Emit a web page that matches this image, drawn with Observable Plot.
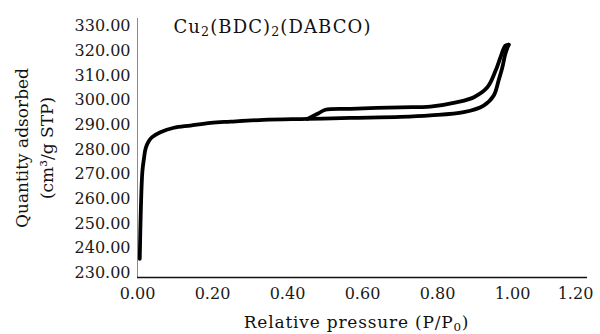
<!DOCTYPE html>
<html><head><meta charset="utf-8">
<script src="https://cdn.jsdelivr.net/npm/d3@7"></script>
<script src="https://cdn.jsdelivr.net/npm/@observablehq/plot@0.6"></script>
<style>body{margin:0;background:#fff}</style>
</head><body><div id="chart"></div>
<script>
// Adsorption branch (relative pressure, quantity adsorbed)
const adsP = [0.006, 0.009, 0.013, 0.017, 0.022, 0.03, 0.039, 0.061, 0.097, 0.141, 0.195, 0.248, 0.336, 0.453, 0.568, 0.701, 0.781, 0.87, 0.923, 0.95, 0.963, 0.973, 0.981, 0.99];
const adsV = [237.6, 258, 273, 278, 282.5, 285.2, 286.9, 288.9, 290.7, 291.6, 292.7, 293.2, 293.9, 294.3, 294.7, 295.1, 295.7, 297.0, 299.7, 303.8, 309.9, 315.2, 320.7, 324.4];
// Desorption branch
const desP = [0.99, 0.981, 0.968, 0.955, 0.933, 0.897, 0.853, 0.781, 0.701, 0.568, 0.501, 0.483, 0.466, 0.453];
const desV = [324.4, 324.0, 319.3, 313.9, 307.1, 303.1, 301.1, 299.3, 299.0, 298.4, 298.0, 296.6, 295.3, 294.3];

const xTicks = [0, 0.2, 0.4, 0.6, 0.8, 1.0, 1.2];
const yTicks = [230, 240, 250, 260, 270, 280, 290, 300, 310, 320, 330];
const chartTitle = "Cu₂(BDC)₂(DABCO)";
const yTitle1 = "Quantity adsorbed";
const yTitle2 = "(cm³/g STP)";
const xTitle = "Relative pressure (P/P₀)";

const ads = adsP.map((p, i) => ({p, v: adsV[i]}));
const des = desP.map((p, i) => ({p, v: desV[i]}));

const font = "DejaVu Serif";
const txt = {fontFamily: font, fontSize: 17, fill: "#111"};
const chart = Plot.plot({
  width: 600, height: 334,
  marginLeft: 137, marginRight: 13, marginTop: 18, marginBottom: 57,
  style: {fontFamily: font, background: "white", color: "#1a1a1a"},
  x: {domain: [0, 1.2]},
  y: {domain: [230, 335]},
  marks: [
    Plot.ruleX([0], {y1: 230, y2: 335, stroke: "#8c8c8c", strokeWidth: 1}),
    Plot.ruleY([230], {x1: 0, x2: 1.2, stroke: "#111", strokeWidth: 1.5}),
    Plot.axisY({ticks: yTicks, tickSize: 0, tickPadding: 7, tickFormat: d => d.toFixed(2), fontSize: 16, fontFamily: font, dy: -4.5, label: null}),
    Plot.axisX({ticks: xTicks, tickSize: 0, tickPadding: 10, tickFormat: d => d.toFixed(2), fontSize: 16, fontFamily: font, label: null}),
    Plot.line(ads, {x: "p", y: "v", curve: "catmull-rom", stroke: "black", strokeWidth: 3.8, strokeLinecap: "round", strokeLinejoin: "round"}),
    Plot.line(des, {x: "p", y: "v", curve: "catmull-rom", stroke: "black", strokeWidth: 3.8, strokeLinecap: "round", strokeLinejoin: "round"}),
    Plot.text([chartTitle], {...txt, fontSize: 18, frameAnchor: "top-left", dx: 36, dy: 2, textAnchor: "start", className: "subfix ttl"}),
    Plot.text([yTitle1], {...txt, frameAnchor: "left", dx: -115, rotate: -90, textAnchor: "middle"}),
    Plot.text([yTitle2], {...txt, frameAnchor: "left", dx: -90, rotate: -90, textAnchor: "middle"}),
    Plot.text([xTitle], {...txt, frameAnchor: "bottom", dx: -6, dy: 50, textAnchor: "middle", className: "subfix xt"})
  ]
});
document.getElementById("chart").appendChild(chart);
const xl = chart.querySelectorAll('g[aria-label="x-axis tick label"] text');
if (xl.length) {
  const last = xl[xl.length - 1];
  last.setAttribute("transform", (last.getAttribute("transform") || "") + " translate(-12,0)");
}
// turn unicode subscripts into real lowered, smaller tspans
const subMap = {"₀": "0", "₁": "1", "₂": "2", "₃": "3"};
chart.querySelectorAll(".subfix text, text.subfix").forEach(t => {
  const s = t.textContent;
  if (!/[₀-₉]/.test(s)) return;
  t.textContent = "";
  let buf = "";
  const flush = () => { if (buf) { const ts = document.createElementNS("http://www.w3.org/2000/svg", "tspan"); ts.textContent = buf; t.appendChild(ts); buf = ""; } };
  for (const ch of s) {
    if (subMap[ch] !== undefined) {
      flush();
      const ts = document.createElementNS("http://www.w3.org/2000/svg", "tspan");
      ts.textContent = subMap[ch];
      ts.setAttribute("font-size", "70%");
      ts.setAttribute("baseline-shift", "-22%");
      t.appendChild(ts);
    } else buf += ch;
  }
  flush();
});
chart.querySelectorAll(".ttl text, text.ttl").forEach(t => t.setAttribute("letter-spacing", "1.1"));
chart.querySelectorAll(".xt text, text.xt").forEach(t => t.setAttribute("letter-spacing", "0.8"));
</script>
</body></html>
